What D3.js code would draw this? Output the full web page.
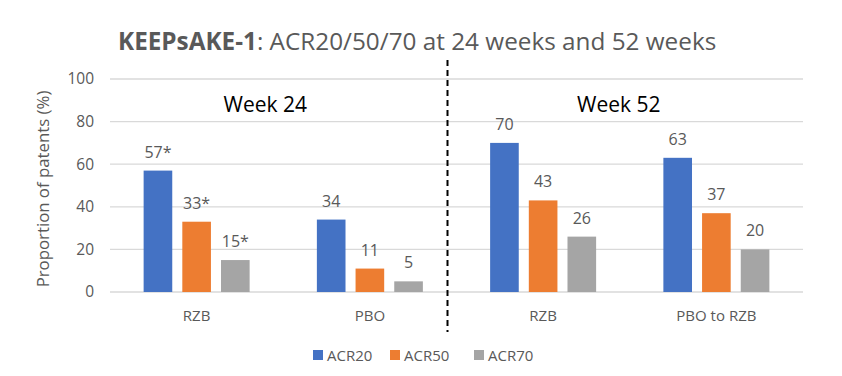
<!DOCTYPE html>
<html><head><meta charset="utf-8">
<script src="https://cdn.jsdelivr.net/npm/d3@7"></script>
<style>body{margin:0;background:#fff;font-family:"Open Sans",sans-serif;}</style>
</head><body>
<svg id="c" width="842" height="376"></svg>
<script>
const categories = ["RZB", "PBO", "RZB", "PBO to RZB"];
const series = ["ACR20", "ACR50", "ACR70"];
const acr20 = [57, 34, 70, 63];
const acr50 = [33, 11, 43, 37];
const acr70 = [15, 5, 26, 20];
const labels20 = ["57*", "34", "70", "63"];
const labels50 = ["33*", "11", "43", "37"];
const labels70 = ["15*", "5", "26", "20"];
const yTicks = [0, 20, 40, 60, 80, 100];
const periods = ["Week 24", "Week 52"];
const colors = ["#4472C4", "#ED7D31", "#A5A5A5"];

(function(){
const svg = d3.select("#c");
const mLeft = 110, mRight = 803, mTop = 79, mBottom = 292;
const x0 = d3.scaleBand().domain(d3.range(categories.length)).range([mLeft, mRight]);
const x1 = d3.scaleBand().domain(series).range([0, 106]).paddingInner(0.26).paddingOuter(0);
const y = d3.scaleLinear().domain([0, 100]).range([mBottom, mTop]);
const vals = [acr20, acr50, acr70];
const labs = [labels20, labels50, labels70];

svg.append("g").selectAll("line").data(yTicks).join("line")
  .attr("x1", mLeft).attr("x2", mRight)
  .attr("y1", d => y(d)).attr("y2", d => y(d))
  .attr("stroke", "#d9d9d9").attr("stroke-width", 1.3);

const ya = svg.append("g").attr("transform", `translate(${mLeft},0)`)
  .call(d3.axisLeft(y).tickValues(yTicks).tickSize(0).tickPadding(16));
ya.select(".domain").remove();
ya.selectAll("text").attr("font-size", 15.5).attr("fill", "#595959").attr("font-family", "Open Sans");

const xa = svg.append("g").attr("transform", `translate(0,${mBottom})`)
  .call(d3.axisBottom(x0).tickFormat(i => categories[i]).tickSize(0).tickPadding(18));
xa.select(".domain").remove();
xa.selectAll("text").attr("font-size", 15).attr("fill", "#595959").attr("font-family", "Open Sans");

const groups = svg.append("g").selectAll("g").data(d3.range(categories.length)).join("g")
  .attr("transform", i => `translate(${x0(i) + x0.bandwidth()/2 - 53},0)`);
series.forEach((s, si) => {
  groups.append("rect")
    .attr("x", x1(s)).attr("width", x1.bandwidth())
    .attr("y", i => y(vals[si][i])).attr("height", i => mBottom - y(vals[si][i]))
    .attr("fill", colors[si]);
  groups.append("text")
    .attr("x", x1(s) + x1.bandwidth()/2)
    .attr("y", i => y(vals[si][i]) - 13)
    .attr("text-anchor", "middle").attr("font-size", 16).attr("fill", "#595959")
    .text(i => labs[si][i]);
});

const divX = x0(2) - 9;
svg.append("line").attr("x1", divX).attr("x2", divX).attr("y1", 60).attr("y2", 332)
  .attr("stroke", "#000").attr("stroke-width", 2).attr("stroke-dasharray", "6,4");

svg.append("text").attr("x", (x0(0) + x0(1) + x0.bandwidth())/2 - 18).attr("y", 112)
  .attr("text-anchor", "middle").attr("font-size", 21).attr("fill", "#000").text(periods[0]);
svg.append("text").attr("x", (x0(2) + x0(3) + x0.bandwidth())/2 - 11).attr("y", 112)
  .attr("text-anchor", "middle").attr("font-size", 21).attr("fill", "#000").text(periods[1]);

const t = svg.append("text").attr("x", 118).attr("y", 50).attr("font-size", 24.3).attr("fill", "#595959");
t.append("tspan").attr("font-weight", "bold").text("KEEPsAKE-1");
t.append("tspan").text(": ACR20/50/70 at 24 weeks and 52 weeks");

svg.append("text").attr("transform", "translate(49,189) rotate(-90)")
  .attr("text-anchor", "middle").attr("font-size", 16.8).attr("fill", "#595959")
  .text("Proportion of patents (%)");

const legX = [313, 390, 474];
const lg = svg.append("g").selectAll("g").data(series).join("g")
  .attr("transform", (d, i) => `translate(${legX[i]},350)`);
lg.append("rect").attr("width", 10).attr("height", 10).attr("fill", (d, i) => colors[i]);
lg.append("text").attr("x", 14).attr("y", 10.5).attr("font-size", 15).attr("fill", "#595959").text(d => d);
})();
</script>
</body></html>
